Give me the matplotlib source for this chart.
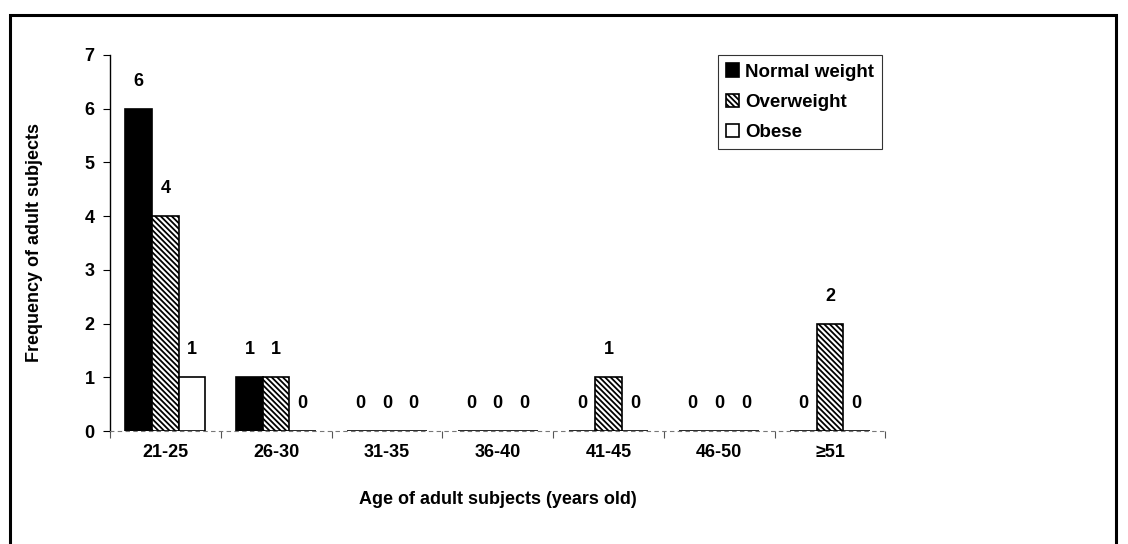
import numpy as np
import matplotlib.pyplot as plt
from matplotlib.patches import Rectangle

plt.rcParams['font.family'] = ['Liberation Sans', 'DejaVu Sans']
plt.rcParams['font.weight'] = 'bold'
plt.rcParams['hatch.linewidth'] = 1.3

# data
ages = ['21-25', '26-30', '31-35', '36-40', '41-45', '46-50', '≥51']
normal = [6, 1, 0, 0, 0, 0, 0]
overweight = [4, 1, 0, 0, 1, 0, 2]
obese = [1, 0, 0, 0, 0, 0, 0]

fig = plt.figure(figsize=(11.28, 5.44), dpi=100)
ax = fig.add_axes([0.0975, 0.2077, 0.6875, 0.6913])

# outer frame
fig.patches.append(Rectangle((0.009, -0.05), 0.98, 1.022, transform=fig.transFigure,
                             fill=False, edgecolor='black', linewidth=2.2))

x = np.arange(len(ages))
w = 0.24
series = [(normal, 'Normal weight', 'black', None),
          (overweight, 'Overweight', 'white', '\\\\\\\\\\\\'),
          (obese, 'Obese', 'white', None)]

for k, (vals, name, fc, hatch) in enumerate(series):
    pos = x + (k - 1) * w
    ax.bar(pos, vals, w, color=fc, edgecolor='black', hatch=hatch, linewidth=1.2, label=name)
    for p, v in zip(pos, vals):
        ax.text(p, v + 0.35, str(v), ha='center', va='bottom', fontsize=13)

ax.set_xlim(-0.5, len(ages) - 0.5)
ax.set_ylim(0, 7)
ax.set_yticks(range(8))
ax.set_xticks(x)
ax.set_xticklabels(ages)
ax.set_xticks(np.arange(len(ages) + 1) - 0.5, minor=True)
ax.tick_params(axis='x', which='major', length=0, pad=9, labelsize=13)
ax.tick_params(axis='x', which='minor', length=5, width=0.8, color='#555555')
ax.tick_params(axis='y', length=5, width=0.8, labelsize=13, pad=6)

for s in ['top', 'right']:
    ax.spines[s].set_visible(False)
ax.spines['left'].set_linewidth(1)
ax.spines['bottom'].set_linestyle((0, (3, 4)))
ax.spines['bottom'].set_color('#777777')
ax.spines['bottom'].set_linewidth(0.8)

ax.set_ylabel('Frequency of adult subjects', fontsize=13, fontweight='bold', labelpad=30)
ax.set_xlabel('Age of adult subjects (years old)', fontsize=13, fontweight='bold', labelpad=22)

leg = ax.legend(loc='upper right', bbox_to_anchor=(0.996, 1.0), fontsize=13.5, frameon=True,
                fancybox=False, edgecolor='black', handlelength=0.7, handleheight=0.7,
                handletextpad=0.3, borderpad=0.45, labelspacing=0.7, borderaxespad=0)
leg.get_frame().set_linewidth(0.8)

fig.savefig('out.png', dpi=100)
